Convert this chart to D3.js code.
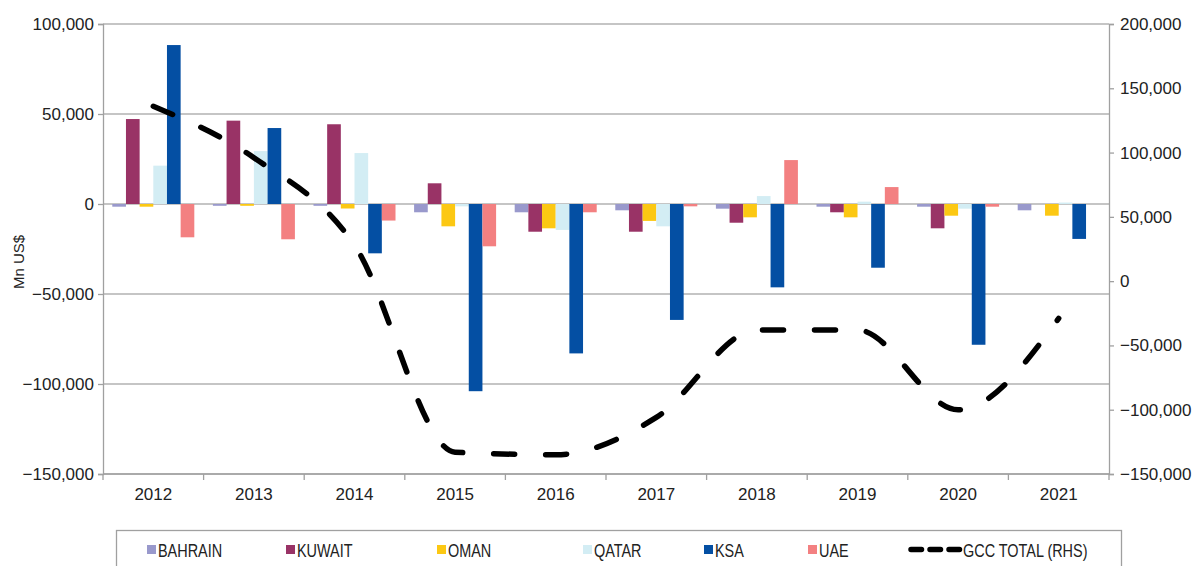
<!DOCTYPE html>
<html>
<head>
<meta charset="utf-8">
<script src="https://cdn.jsdelivr.net/npm/d3@7"></script>
<style>
	body { margin: 0; background: #fff; }
	svg text { fill: #222; }
</style>
</head>
<body>
<svg width="1196" height="566"></svg>
<script>
// values, Mn US$
var years = ['2012', '2013', '2014', '2015', '2016', '2017', '2018', '2019', '2020', '2021'];
var seriesNames = ['BAHRAIN', 'KUWAIT', 'OMAN', 'QATAR', 'KSA', 'UAE'];
var bahrain = [-1500, -1000, -1000, -4600, -4600, -3500, -2600, -1500, -1500, -3500];
var kuwait  = [47200, 46300, 44300, 11500, -15400, -15400, -10400, -4600, -13500, 0];
var oman    = [-1500, -1000, -2500, -12400, -13500, -9400, -7400, -7400, -6500, -6500];
var qatar   = [21300, 29400, 28300, -1300, -14400, -12400, 4400, 1300, -2600, 800];
var ksa     = [88300, 42200, -27400, -104000, -83000, -64400, -46300, -35400, -78200, -19400];
var uae     = [-18500, -19600, -9200, -23500, -4600, -1300, 24400, 9400, -1500, 0];
var gccTotal = [136000, 96000, 28000, -133000, -135000, -106000, -38000, -38000, -100000, -29000];
var leftTicks = [-150000, -100000, -50000, 0, 50000, 100000];
var rightTicks = [-150000, -100000, -50000, 0, 50000, 100000, 150000, 200000];
var lineName = 'GCC TOTAL (RHS)';

var colors = ['#9999cc', '#993366', '#fcc813', '#d3edf4', '#044fa3', '#f38081'];
var seriesValues = [bahrain, kuwait, oman, qatar, ksa, uae];

var svg = d3.select('svg'),
	plot = {left: 103, right: 1109, top: 24, bottom: 474},
	fmt = d3.format(','),
	axisFont = 'Liberation Sans, Arial, sans-serif',
	legendFont = 'Liberation Sans, Arial, sans-serif';

var x = d3.scaleBand().domain(years).range([plot.left, plot.right]).padding(0);
var x1 = d3.scaleBand().domain(seriesNames).range([0, x.bandwidth()])
	.paddingInner(0).paddingOuter(0.68);
var yL = d3.scaleLinear().domain([-150000, 100000]).range([plot.bottom, plot.top]);
var yR = d3.scaleLinear().domain([-150000, 200000]).range([plot.bottom, plot.top]);

// grid
svg.append('g').selectAll('line')
	.data(leftTicks)
	.enter().append('line')
	.attr('x1', plot.left).attr('x2', plot.right)
	.attr('y1', function(d) { return yL(d); })
	.attr('y2', function(d) { return yL(d); })
	.attr('stroke', '#8c8c8c').attr('stroke-width', 1.2);

// bars
seriesNames.forEach(function(name, i) {
	svg.append('g').selectAll('rect')
		.data(seriesValues[i])
		.enter().append('rect')
		.attr('x', function(d, j) { return x(years[j]) + x1(name); })
		.attr('width', x1.bandwidth())
		.attr('y', function(d) { return Math.min(yL(d), yL(0)); })
		.attr('height', function(d) { return Math.abs(yL(d) - yL(0)); })
		.attr('fill', colors[i]);
});

// axes
var gl = svg.append('g')
	.attr('transform', 'translate(' + plot.left + ',0)')
	.call(d3.axisLeft(yL).tickValues(leftTicks).tickFormat(fmt).tickSize(5).tickPadding(4));
var gr = svg.append('g')
	.attr('transform', 'translate(' + plot.right + ',0)')
	.call(d3.axisRight(yR).tickValues(rightTicks).tickFormat(fmt).tickSize(5).tickPadding(6));
[gl, gr].forEach(function(g) {
	g.selectAll('.domain, line').attr('stroke', '#a0a0a0').attr('stroke-width', 1.3);
	g.selectAll('text').style('font-family', axisFont)
		.style('font-size', '17px').attr('fill', '#222');
});

// category axis
var gb = svg.append('g');
gb.append('line')
	.attr('x1', plot.left).attr('x2', plot.right)
	.attr('y1', plot.bottom).attr('y2', plot.bottom)
	.attr('stroke', '#a0a0a0').attr('stroke-width', 1.3);
gb.selectAll('line.tk')
	.data(d3.range(years.length + 1))
	.enter().append('line')
	.attr('class', 'tk')
	.attr('x1', function(i) { return plot.left + i * x.step(); })
	.attr('x2', function(i) { return plot.left + i * x.step(); })
	.attr('y1', plot.bottom).attr('y2', plot.bottom + 6)
	.attr('stroke', '#a0a0a0').attr('stroke-width', 1.3);
gb.selectAll('text')
	.data(years)
	.enter().append('text')
	.attr('x', function(d) { return x(d) + x.bandwidth() / 2; })
	.attr('y', plot.bottom + 26)
	.attr('text-anchor', 'middle')
	.style('font-family', axisFont)
	.style('font-size', '17px')
	.text(function(d) { return d; });

svg.append('text')
	.attr('transform', 'translate(24,262) rotate(-90)')
	.attr('text-anchor', 'middle')
	.style('font-family', axisFont)
	.style('font-size', '15px')
	.text('Mn US$');

// GCC total line
var line = d3.line()
	.x(function(d, i) { return x(years[i]) + x.bandwidth() / 2; })
	.y(function(d) { return yR(d); })
	.curve(d3.curveMonotoneX);
svg.append('path')
	.datum(gccTotal)
	.attr('fill', 'none')
	.attr('stroke', '#000')
	.attr('stroke-width', 5.5)
	.attr('stroke-linecap', 'round')
	.attr('stroke-dasharray', '21,31')
	.attr('d', line);

// legend
var lg = svg.append('g');
lg.append('rect')
	.attr('x', 116.5).attr('y', 530.5)
	.attr('width', 1005).attr('height', 60)
	.attr('fill', '#fff').attr('stroke', '#a0a0a0').attr('stroke-width', 1.3);
var legendX = [147, 286, 437, 583, 704, 808];
function legendText(x0, txt) {
	lg.append('text')
		.attr('transform', 'translate(' + x0 + ',557) scale(0.78,1)')
		.style('font-family', legendFont)
		.style('font-size', '18.5px')
		.text(txt);
}
seriesNames.forEach(function(name, i) {
	lg.append('rect')
		.attr('x', legendX[i]).attr('y', 545)
		.attr('width', 9).attr('height', 9)
		.attr('fill', colors[i]);
	legendText(legendX[i] + 11, name);
});
lg.append('line')
	.attr('x1', 911).attr('x2', 962)
	.attr('y1', 549.5).attr('y2', 549.5)
	.attr('stroke', '#000').attr('stroke-width', 5.5)
	.attr('stroke-linecap', 'round')
	.attr('stroke-dasharray', '10.5,8.5');
legendText(963, lineName);
</script>
</body>
</html>
